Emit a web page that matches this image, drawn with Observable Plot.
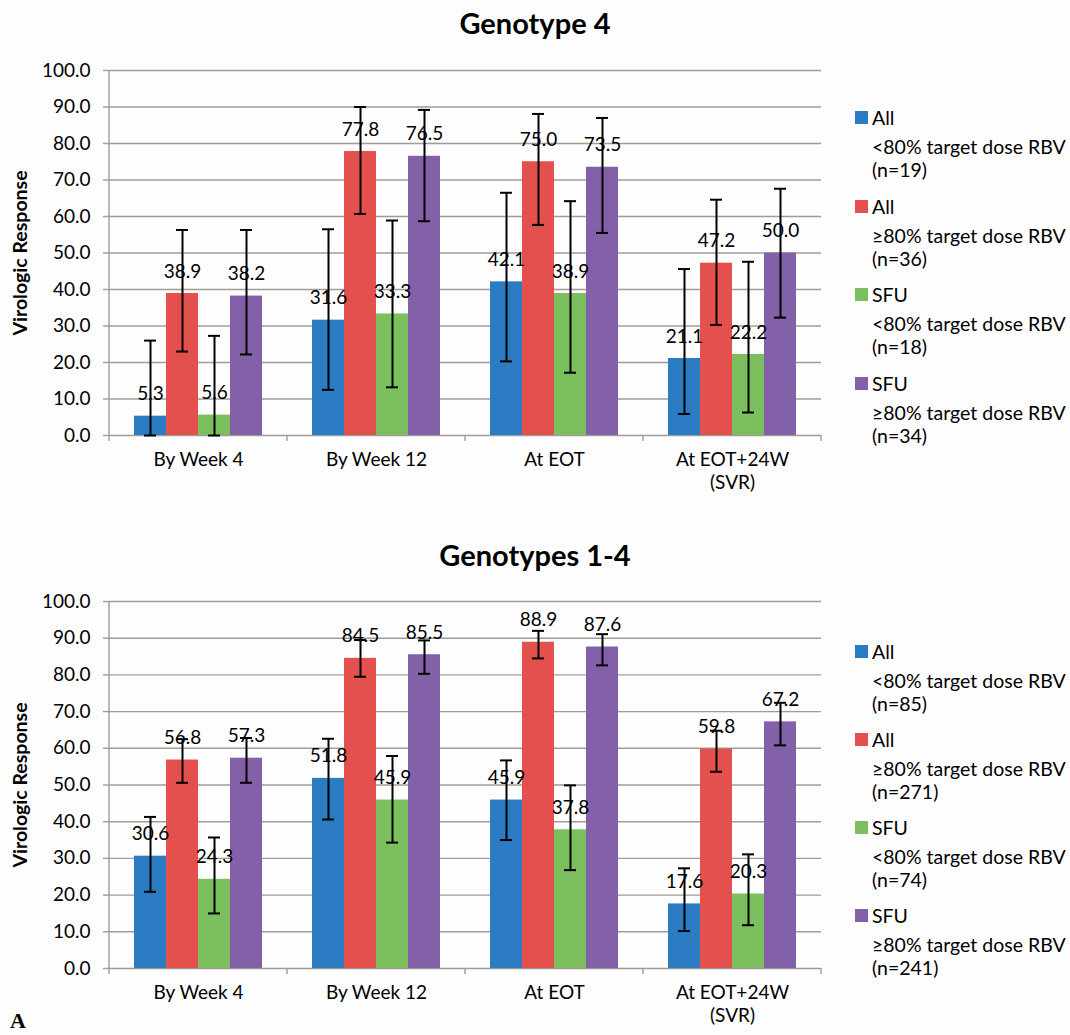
<!DOCTYPE html>
<html>
<head>
<meta charset="utf-8">
<script src="https://cdn.jsdelivr.net/npm/d3@7"></script>
<script src="https://cdn.jsdelivr.net/npm/@observablehq/plot@0.6"></script>
<style>
  html, body { margin: 0; padding: 0; background: #fdfdfd; }
  #page { position: relative; width: 1070px; height: 1035px; overflow: hidden; font-family: Lato, "Open Sans", sans-serif; color: #000; }
  .title { position: absolute; left: 0; width: 1070px; text-align: center; font-weight: 700; font-size: 29px; line-height: 34px; }
  .ylab { position: absolute; font-weight: 700; font-size: 19.5px; white-space: nowrap; transform: translate(-50%, -50%) rotate(-90deg); }
  .chart { position: absolute; left: 0; }
  .legend-entry { position: absolute; left: 855px; font-size: 19.5px; }
  .legend-entry .sw { position: absolute; left: 0; top: 6px; width: 13px; height: 13px; }
  .legend-entry .txt { position: absolute; left: 17px; top: 0; white-space: nowrap; }
  .legend-entry .l1 { line-height: 26px; height: 30px; }
  .legend-entry .l2 { line-height: 23px; }
  .panel-letter { position: absolute; left: 10px; top: 1009px; font-family: "Liberation Serif", "DejaVu Serif", serif; font-weight: 700; font-size: 22px; line-height: 24px; }
</style>
</head>
<body>
<div id="page"></div>
<script>
// ---------------- data ----------------
const categories = ["By Week 4", "By Week 12", "At EOT", "At EOT+24W\n(SVR)"];
const seriesKeys = ["All <80%", "All ≥80%", "SFU <80%", "SFU ≥80%"];
const seriesGroup = ["All", "All", "SFU", "SFU"];
const seriesDose = ["<80% target dose RBV", "≥80% target dose RBV", "<80% target dose RBV", "≥80% target dose RBV"];
const seriesColors = ["#2b7cc2", "#e3504d", "#7cbf5e", "#8361a9"];
const yTicks = [0, 10, 20, 30, 40, 50, 60, 70, 80, 90, 100];

// Genotype 4 (rows = categories, cols = series)
const g4Title = "Genotype 4";
const g4N = [19, 36, 18, 34];
const g4Values = [
  [5.3, 38.9, 5.6, 38.2],
  [31.6, 77.8, 33.3, 76.5],
  [42.1, 75.0, 38.9, 73.5],
  [21.1, 47.2, 22.2, 50.0]
];
const g4Lower = [
  [0.0, 23.0, 0.0, 22.2],
  [12.5, 60.7, 13.2, 58.7],
  [20.3, 57.7, 17.2, 55.5],
  [5.9, 30.3, 6.3, 32.3]
];
const g4Upper = [
  [26.0, 56.3, 27.3, 56.3],
  [56.5, 90.0, 58.9, 89.2],
  [66.5, 88.1, 64.2, 87.0],
  [45.6, 64.6, 47.6, 67.6]
];

// Genotypes 1-4
const g14Title = "Genotypes 1-4";
const g14N = [85, 271, 74, 241];
const g14Values = [
  [30.6, 56.8, 24.3, 57.3],
  [51.8, 84.5, 45.9, 85.5],
  [45.9, 88.9, 37.8, 87.6],
  [17.6, 59.8, 20.3, 67.2]
];
const g14Lower = [
  [20.9, 50.6, 15.0, 50.6],
  [40.6, 79.5, 34.3, 80.3],
  [35.0, 84.5, 26.8, 82.6],
  [10.2, 53.6, 11.8, 60.8]
];
const g14Upper = [
  [41.3, 62.5, 35.7, 62.8],
  [62.6, 89.5, 57.9, 89.4],
  [56.7, 92.0, 49.9, 91.1],
  [27.3, 64.8, 31.1, 72.4]
];

const yLabel = "Virologic Response";
const panelLetter = "A";

// ---------------- drawing ----------------
const gridColor = "#a39b97";
const fontFamily = 'Lato, "Open Sans", sans-serif';
const page = document.getElementById("page");

function buildRows(values, lower, upper) {
  const rows = [];
  categories.forEach((cat, i) => {
    seriesKeys.forEach((s, j) => {
      rows.push({cat, series: s, value: values[i][j], lo: lower[i][j], hi: upper[i][j]});
    });
  });
  return rows;
}

function makePanel(cfg) {
  const {title, titleTop, svgTop, marginTop, plotH, marginBottom, values, lower, upper, n, legendTop, legendStep} = cfg;
  const t = document.createElement("div");
  t.className = "title";
  t.style.top = titleTop + "px";
  t.textContent = title;
  page.appendChild(t);

  const rows = buildRows(values, lower, upper);
  const height = marginTop + plotH + marginBottom;
  const plot = Plot.plot({
    width: 830,
    height,
    marginLeft: 108,
    marginRight: 9,
    marginTop,
    marginBottom,
    style: {fontFamily, fontSize: "18px", color: "#000", background: "transparent", overflow: "visible"},
    fx: {domain: categories, padding: 0, label: null},
    x: {domain: seriesKeys, paddingInner: 0, paddingOuter: 0.742, axis: null},
    y: {domain: [0, 100], axis: null},
    color: {domain: seriesKeys, range: seriesColors},
    marks: [
      Plot.gridY(yTicks, {stroke: gridColor, strokeOpacity: 1, strokeWidth: 1.4}),
      Plot.axisY(yTicks, {tickFormat: d => d.toFixed(1), tickSize: 6, tickPadding: 13, stroke: gridColor, strokeWidth: 1.4, fontSize: 19, label: null}),
      Plot.axisFx({anchor: "bottom", tickSize: 0, tickPadding: 15, fontSize: 19, label: null, lineHeight: 1.17}),
      Plot.barY(rows, {fx: "cat", x: "series", y: "value", fill: "series"}),
      Plot.ruleX(rows, {fx: "cat", x: "series", y1: "lo", y2: "hi", stroke: "#000", strokeWidth: 2}),
      Plot.tickY(rows, {fx: "cat", x: "series", y: "lo", stroke: "#000", strokeWidth: 2, inset: 10}),
      Plot.tickY(rows, {fx: "cat", x: "series", y: "hi", stroke: "#000", strokeWidth: 2, inset: 10}),
      Plot.text(rows, {fx: "cat", x: "series", y: "value", text: d => d.value.toFixed(1), dy: -22, fontSize: 19, fill: "#000"})
    ]
  });
  plot.classList.add("chart");
  plot.style.top = svgTop + "px";
  page.appendChild(plot);

  // axis line and category boundary ticks from the plot's own scales
  const fx = plot.scale("fx");
  const y = plot.scale("y");
  const svg = d3.select(plot);
  const y0 = y.apply(0), y100 = y.apply(100);
  const x0 = fx.apply(categories[0]);
  svg.append("line").attr("x1", x0).attr("x2", x0).attr("y1", y0).attr("y2", y100)
    .attr("stroke", gridColor).attr("stroke-width", 1.4);
  const edges = categories.map(c => fx.apply(c));
  edges.push(fx.apply(categories[categories.length - 1]) + fx.bandwidth);
  edges.forEach(e => {
    svg.append("line").attr("x1", e).attr("x2", e).attr("y1", y0).attr("y2", y0 + 6)
      .attr("stroke", gridColor).attr("stroke-width", 1.4);
  });

  // y axis label
  const yl = document.createElement("div");
  yl.className = "ylab";
  yl.textContent = yLabel;
  yl.style.left = "19px";
  yl.style.top = (svgTop + (y0 + y100) / 2) + "px";
  page.appendChild(yl);

  // legend
  seriesKeys.forEach((s, j) => {
    const e = document.createElement("div");
    e.className = "legend-entry";
    e.style.top = (legendTop + j * legendStep) + "px";
    const sw = document.createElement("div");
    sw.className = "sw";
    sw.style.background = seriesColors[j];
    e.appendChild(sw);
    const txt = document.createElement("div");
    txt.className = "txt";
    const l1 = document.createElement("div"); l1.className = "l1"; l1.textContent = seriesGroup[j];
    const l2 = document.createElement("div"); l2.className = "l2"; l2.textContent = seriesDose[j];
    const l3 = document.createElement("div"); l3.className = "l2"; l3.textContent = "(n=" + n[j] + ")";
    txt.appendChild(l1); txt.appendChild(l2); txt.appendChild(l3);
    e.appendChild(txt);
    page.appendChild(e);
  });
}

makePanel({title: g4Title, titleTop: 6, svgTop: 50, marginTop: 20, plotH: 365, marginBottom: 65,
  values: g4Values, lower: g4Lower, upper: g4Upper, n: g4N, legendTop: 105, legendStep: 88.5});
makePanel({title: g14Title, titleTop: 538, svgTop: 580, marginTop: 21, plotH: 367, marginBottom: 64,
  values: g14Values, lower: g14Lower, upper: g14Upper, n: g14N, legendTop: 639, legendStep: 88});

const letter = document.createElement("div");
letter.className = "panel-letter";
letter.textContent = panelLetter;
page.appendChild(letter);
</script>
</body>
</html>
